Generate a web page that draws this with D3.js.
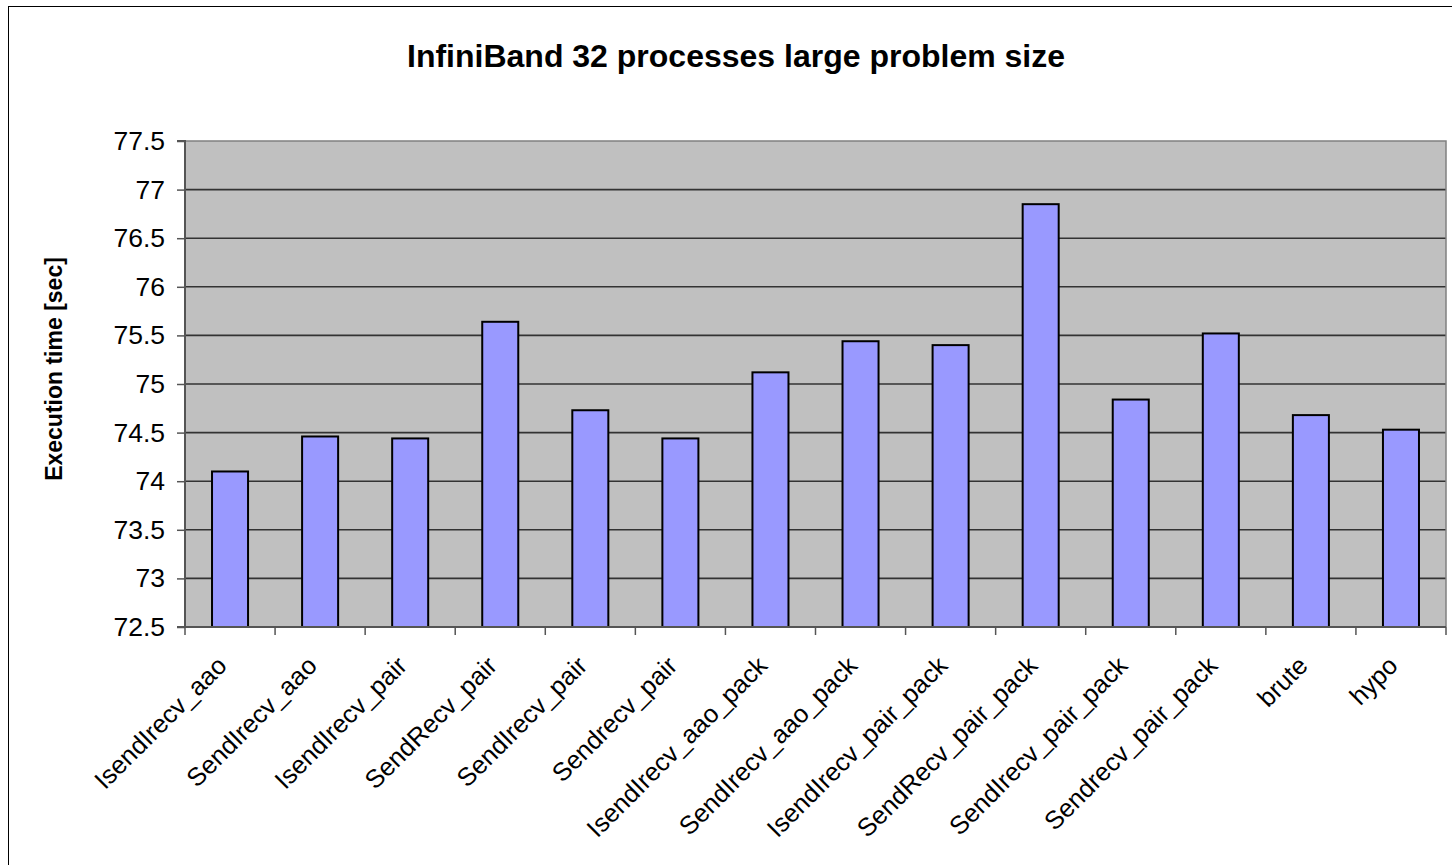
<!DOCTYPE html>
<html>
<head>
<meta charset="utf-8">
<script src="https://cdn.jsdelivr.net/npm/d3@7"></script>
<style>
  html, body { margin: 0; padding: 0; background: #ffffff; overflow: hidden; }
  svg { display: block; font-family: Arial, "Liberation Sans", sans-serif; }
</style>
</head>
<body>
<svg id="chart" width="1452" height="865"></svg>
<script>
// Execution time per communication variant (InfiniBand, 32 processes)
const categories = [
  "IsendIrecv_aao", "SendIrecv_aao", "IsendIrecv_pair", "SendRecv_pair",
  "SendIrecv_pair", "Sendrecv_pair", "IsendIrecv_aao_pack", "SendIrecv_aao_pack",
  "IsendIrecv_pair_pack", "SendRecv_pair_pack", "SendIrecv_pair_pack",
  "Sendrecv_pair_pack", "brute", "hypo"
];
const times = [74.10, 74.46, 74.44, 75.64, 74.73, 74.44, 75.12, 75.44, 75.40, 76.85, 74.84, 75.52, 74.68, 74.53];
const yTicks = [72.5, 73, 73.5, 74, 74.5, 75, 75.5, 76, 76.5, 77, 77.5];
const titleText = "InfiniBand 32 processes large problem size";
const yTitle = "Execution time [sec]";

const svg = d3.select("#chart");

// chart area frame
svg.append("rect")
  .attr("x", 8.5).attr("y", 6.5)
  .attr("width", 1456).attr("height", 870)
  .attr("fill", "#ffffff").attr("stroke", "#000000").attr("stroke-width", 1);

const plot = { left: 185, right: 1446, top: 141, bottom: 627 };

const x = d3.scaleBand().domain(categories).range([plot.left, plot.right]).padding(0);
const y = d3.scaleLinear().domain([72.5, 77.5]).range([plot.bottom, plot.top]);

// plot background
svg.append("rect")
  .attr("x", plot.left).attr("y", plot.top)
  .attr("width", plot.right - plot.left).attr("height", plot.bottom - plot.top)
  .attr("fill", "#c0c0c0");

// horizontal gridlines
svg.append("g").selectAll("line")
  .data(yTicks.slice(1, -1))
  .join("line")
  .attr("x1", plot.left).attr("x2", plot.right)
  .attr("y1", d => y(d)).attr("y2", d => y(d))
  .attr("stroke", "#333333").attr("stroke-width", 1.6);

// plot border (top and right)
svg.append("path")
  .attr("d", `M${plot.left},${plot.top}H${plot.right}V${plot.bottom}`)
  .attr("fill", "none").attr("stroke", "#808080").attr("stroke-width", 1.5);

// bars: width is 40% of the category slot, centred
const barW = x.bandwidth() * 0.4;
svg.append("g").selectAll("rect")
  .data(categories.map((c, i) => ({ c, v: times[i] })))
  .join("rect")
  .attr("x", d => x(d.c) + (x.bandwidth() - barW) / 2)
  .attr("y", d => y(d.v))
  .attr("width", barW)
  .attr("height", d => y(72.5) - y(d.v))
  .attr("fill", "#9999ff")
  .attr("stroke", "#000000").attr("stroke-width", 2);

// y axis
const yAxis = d3.axisLeft(y)
  .tickValues(yTicks)
  .tickSize(8)
  .tickPadding(12)
  .tickFormat(d => String(d));
const gy = svg.append("g").attr("transform", `translate(${plot.left},0)`).call(yAxis);
gy.select(".domain").attr("stroke", "#555555").attr("stroke-width", 2).attr("d", `M-8,${plot.top}H0V${plot.bottom}H-8`);
gy.selectAll(".tick line").attr("stroke", "#555555").attr("stroke-width", 1.5);
gy.selectAll(".tick text")
  .attr("font-size", 26.5).attr("fill", "#000000")
  .attr("font-family", "Arial, 'Liberation Sans', sans-serif");

// x axis: ticks at the category boundaries
const boundaries = categories.map(c => x(c)).concat([plot.right]);
const gx = svg.append("g");
gx.append("line")
  .attr("x1", plot.left).attr("x2", plot.right)
  .attr("y1", plot.bottom).attr("y2", plot.bottom)
  .attr("stroke", "#555555").attr("stroke-width", 2);
gx.selectAll("line.tk")
  .data(boundaries)
  .join("line")
  .attr("class", "tk")
  .attr("x1", d => d).attr("x2", d => d)
  .attr("y1", plot.bottom).attr("y2", plot.bottom + 8)
  .attr("stroke", "#555555").attr("stroke-width", 1.5);

gx.selectAll("text")
  .data(categories)
  .join("text")
  .attr("transform", d => `translate(${x(d) + x.bandwidth() / 2 - 8},${plot.bottom + 34}) rotate(-45)`)
  .attr("text-anchor", "end")
  .attr("dy", "0.35em")
  .attr("font-size", 25.5)
  .attr("fill", "#000000")
  .text(d => d);

// y axis title
svg.append("text")
  .attr("transform", `translate(62,${(plot.top + plot.bottom) / 2 - 15}) rotate(-90)`)
  .attr("text-anchor", "middle")
  .attr("font-size", 23)
  .attr("font-weight", "bold")
  .text(yTitle);

// chart title
svg.append("text")
  .attr("x", 736).attr("y", 67)
  .attr("text-anchor", "middle")
  .attr("font-size", 32)
  .attr("font-weight", "bold")
  .text(titleText);
</script>
</body>
</html>
